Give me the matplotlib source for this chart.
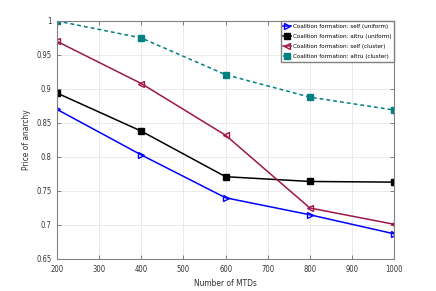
import numpy as np
import matplotlib
matplotlib.use('Agg')
import matplotlib.pyplot as plt

# data
mtds = [200, 400, 600, 800, 1000]
self_uniform = [0.870, 0.803, 0.740, 0.715, 0.687]
altru_uniform = [0.894, 0.838, 0.771, 0.764, 0.763]
self_cluster = [0.970, 0.908, 0.832, 0.725, 0.701]
altru_cluster = [1.000, 0.975, 0.921, 0.888, 0.869]
labels = ['Coalition formation: self (uniform)',
          'Coalition formation: altru (uniform)',
          'Coalition formation: self (cluster)',
          'Coalition formation: altru (cluster)']

plt.rcParams['font.family'] = ['DejaVu Sans']
plt.rcParams['font.stretch'] = 'condensed'

fig = plt.figure(figsize=(4.36, 2.91), dpi=100)
ax = fig.add_axes([0.1307, 0.110, 0.7733, 0.818])

ax.plot(mtds, self_uniform, color='#0000ff', marker='>', mfc='none', ms=5, lw=1.1, label=labels[0])
ax.plot(mtds, altru_uniform, color='black', marker='s', ms=4, lw=1.1, label=labels[1])
ax.plot(mtds, self_cluster, color='#a0154a', marker='<', mfc='none', ms=5, lw=1.1, label=labels[2])
ax.plot(mtds, altru_cluster, color='#008080', marker='s', ms=4, lw=1.1, ls=(0, (2.5, 2)), label=labels[3])

ax.set_xlim(200, 1000)
ax.set_ylim(0.65, 1.0)
ax.set_xticks(np.arange(200, 1001, 100))
ax.set_yticks([0.65, 0.7, 0.75, 0.8, 0.85, 0.9, 0.95, 1.0])
ax.set_yticklabels(['0.65', '0.7', '0.75', '0.8', '0.85', '0.9', '0.95', '1'])
ax.grid(True, color='#e6e6e6', lw=0.6)
ax.tick_params(direction='in', labelsize=5.5, colors='#555555', length=3, width=0.5,
               top=True, right=True, labelcolor='#333333', pad=4)
for s in ax.spines.values():
    s.set_color('#808080')
    s.set_linewidth(0.8)

ax.set_xlabel('Number of MTDs', fontsize=6, color='#333333')
ax.set_ylabel('Price of anarchy', fontsize=6, color='#333333')

ax.legend(loc='upper right', fontsize=4.5, frameon=True, fancybox=False, borderpad=0.4,
          labelspacing=0.75, handlelength=1.2, handletextpad=0.3, borderaxespad=0.05,
          edgecolor='#808080', framealpha=1)

fig.savefig('out.png', dpi=100)
